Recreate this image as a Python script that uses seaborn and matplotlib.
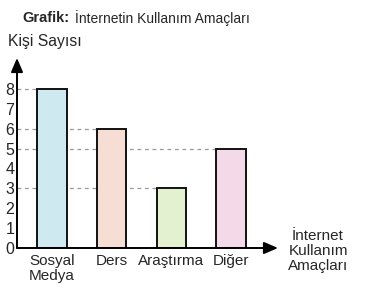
import matplotlib
matplotlib.use("Agg")
import matplotlib.pyplot as plt
import seaborn as sns
import pandas as pd

categories = ["Sosyal\nMedya", "Ders", "Araştırma", "Diğer"]
values = [8, 6, 3, 5]
colors = ["#c8ecf6", "#fcdccf", "#e4f6cc", "#f9d4ea"]
yticks = [0, 1, 2, 3, 4, 5, 6, 7, 8]

sns.set_theme(style="white")
plt.rcParams["font.family"] = ["Liberation Sans", "DejaVu Sans"]

W, H = 373, 294
fig = plt.figure(figsize=(W / 100, H / 100), dpi=100)
ax = fig.add_axes([17 / W, 46 / H, 261 / W, 190 / H])

df = pd.DataFrame({"cat": categories, "val": values})
sns.barplot(data=df, x="cat", y="val", hue="cat", palette=colors, legend=False,
            width=0.49, edgecolor="#111111", linewidth=1.4, ax=ax, zorder=3)

ax.set_xlim(-0.586, 3.786)
ax.set_ylim(0, 9.55)

# dashed guide lines from axis to each bar
for i, v in enumerate(values):
    ax.plot([-0.586, i - 0.245], [v, v], linestyle=(0, (3, 3)), color="#999999",
            linewidth=0.9, zorder=1)

for s in ax.spines.values():
    s.set_visible(False)

ax.set_yticks(yticks)
ax.set_yticklabels([str(t) for t in yticks], fontsize=11.5)
ax.tick_params(axis="y", length=3, width=0.8, pad=2, color="black", direction="in")
ax.tick_params(axis="x", length=0, pad=4, labelsize=11)
ax.set_xlabel("")
ax.set_ylabel("")
for lab in ax.get_xticklabels():
    lab.set_linespacing(1.1)

# axis arrows
ax.annotate("", xy=(0, 1.0), xytext=(0, 0), xycoords="axes fraction",
            arrowprops=dict(arrowstyle="-|>,head_length=0.7,head_width=0.3",
                            color="black", lw=1.4, shrinkA=0, shrinkB=0))
ax.annotate("", xy=(1.0, 0), xytext=(0, 0), xycoords="axes fraction",
            arrowprops=dict(arrowstyle="-|>,head_length=0.7,head_width=0.3",
                            color="black", lw=1.4, shrinkA=0, shrinkB=0))

# texts
fig.text(22 / W, 1 - 18 / H, "Grafik:", fontsize=10.5, fontweight="bold", va="center", ha="left")
fig.text(75 / W, 1 - 18 / H, "İnternetin Kullanım Amaçları", fontsize=10, va="center", ha="left")
fig.text(8 / W, 1 - 42 / H, "Kişi Sayısı", fontsize=11.3, va="center", ha="left")
fig.text(318 / W, 1 - 251 / H, "İnternet\nKullanım\nAmaçları", fontsize=11,
         va="center", ha="center", linespacing=1.05)

fig.savefig("out.png", dpi=100, facecolor="white")
